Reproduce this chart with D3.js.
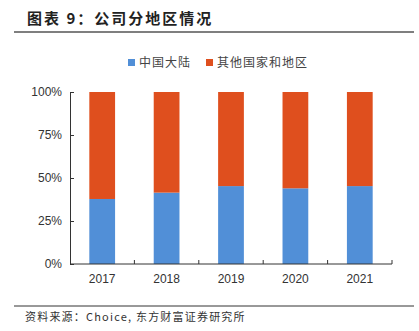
<!DOCTYPE html>
<html><head><meta charset="utf-8">
<script src="https://cdn.jsdelivr.net/npm/d3@7"></script>
<style>body{margin:0;background:#fff}svg{display:block}</style>
</head><body>
<svg id="c" width="419" height="331"></svg>
<script>
const categories = ["2017","2018","2019","2020","2021"];
const mainland = [37.8, 41.5, 45.3, 44.0, 45.3];
const other = mainland.map(v => 100 - v);
const seriesNames = ["中国大陆","其他国家和地区"];
const colors = ["#518FD7","#DF4F1E"];
const yTicks = [0,25,50,75,100];

const svg = d3.select("#c");
const cjk = "'Noto Sans CJK SC', sans-serif";
const lat = "'Liberation Sans', Arial, sans-serif";

svg.append("text").attr("x",27).attr("y",24).text("图表 9：公司分地区情况")
  .attr("font-family",cjk).attr("font-weight","bold").attr("font-size",15)
  .attr("letter-spacing",2).attr("fill","#222");
svg.append("line").attr("x1",14).attr("x2",414).attr("y1",32).attr("y2",32).attr("stroke","#7f7f7f").attr("stroke-width",2);

const x = d3.scaleBand().domain(categories).range([70,392]).paddingInner(0.6).paddingOuter(0.3);
const xb = d3.scaleBand().domain(categories).range([70,392]);
const y = d3.scaleLinear().domain([0,100]).range([264,92]);

const stack = d3.stack().keys([0,1])(categories.map((c,i)=>({0:mainland[i],1:other[i]})));
stack.forEach((s,k)=>{
  svg.append("g").selectAll("rect").data(s).join("rect")
    .attr("x",(d,i)=>x(categories[i])).attr("width",x.bandwidth())
    .attr("y",d=>y(d[1])).attr("height",d=>y(d[0])-y(d[1]))
    .attr("fill",colors[k]);
});

// y axis
const ya = svg.append("g").attr("transform","translate(70,0)")
  .call(d3.axisLeft(y).tickValues(yTicks).tickFormat(d=>d+"%").tickSize(-4).tickPadding(8));
ya.select(".domain").attr("stroke","#333");
ya.selectAll(".tick line").attr("stroke","#333");
ya.selectAll("text").attr("font-family",lat).attr("font-size",12).attr("fill","#333");

// x axis
const xa = svg.append("g").attr("transform","translate(0,264)");
xa.append("line").attr("x1",70).attr("x2",392).attr("y1",0).attr("y2",0).attr("stroke","#333");
xa.selectAll("line.t").data(categories).join("line").attr("class","t")
  .attr("x1",d=>xb(d)+xb.bandwidth()).attr("x2",d=>xb(d)+xb.bandwidth())
  .attr("y1",0).attr("y2",-4).attr("stroke","#333");
xa.selectAll("text").data(categories).join("text")
  .attr("x",d=>xb(d)+xb.bandwidth()/2).attr("y",19).attr("text-anchor","middle")
  .text(d=>d).attr("font-family",lat).attr("font-size",12).attr("fill","#333");

// legend
const lg = [[128,seriesNames[0]],[206,seriesNames[1]]];
lg.forEach(([lx,t],i)=>{
  svg.append("rect").attr("x",lx).attr("y",59).attr("width",7).attr("height",7).attr("fill",colors[i]);
  svg.append("text").attr("x",lx+11).attr("y",67).text(t)
    .attr("font-family",cjk).attr("font-size",12).attr("letter-spacing",1).attr("fill","#444");
});

// footer
svg.append("line").attr("x1",14).attr("x2",414).attr("y1",306).attr("y2",306).attr("stroke","#333").attr("stroke-width",1);
svg.append("text").attr("x",25).attr("y",321).text("资料来源：Choice, 东方财富证券研究所")
  .attr("font-family",cjk).attr("font-size",11).attr("letter-spacing",1.2).attr("fill","#333");
</script>
</body></html>
